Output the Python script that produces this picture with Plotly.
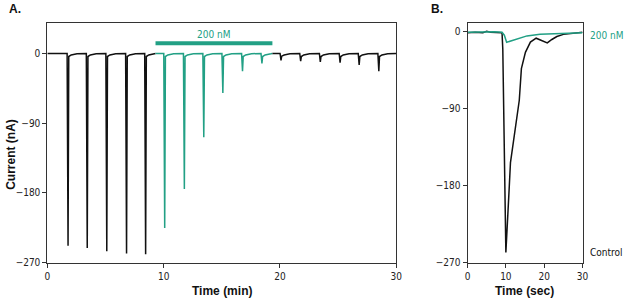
import plotly.graph_objects as go

GREEN = "#22a085"
BLACK = "#111111"

# ---------------- Panel A data ----------------
pulse_times = [1.75, 3.40, 5.08, 6.78, 8.42, 10.06, 11.75, 13.42, 15.06, 16.75,
               18.42, 20.06, 21.75, 23.44, 25.14, 26.78, 28.47]
pulse_peaks = [-248, -251, -255, -258, -259, -225, -175, -108, -51, -23,
               -13, -9, -10, -11, -12, -15, -23]
# pulse shape: (time offset in min, current in nA; None = peak)
shape_dt = [-0.05, 0.03, 0.09, 0.3, 0.8]
shape_i = [0.0, None, -4.0, -2.0, -0.5]
trace_start = 0.0
trace_end = 30.0
drug_start = 9.3
drug_end = 19.35
drug_level = 13
drug_label = "200 nM"

# ---------------- Panel B data ----------------
ctrl_t = [0, 2, 4, 5, 6, 8, 9.0, 9.2, 9.5, 9.65, 10.0, 10.9, 11.2, 13.5, 13.75,
          14.05, 15.1, 16.4, 17.9, 19.3, 20.8, 22.0, 23.3, 25.0, 26.7, 28.0, 30.0]
ctrl_i = [-1, -0.5, -1, 0.5, -0.5, -1, -1, -20, -100, -175, -258, -180, -153, -80, -62,
          -43, -24, -12, -7.5, -10, -13, -9, -5.5, -3, -2, -1, -0.5]
drug_t = [0, 3, 5, 7, 9.0, 9.6, 10.2, 12.0, 15.5, 18.9, 24.0, 29.2, 30.0]
drug_i = [-0.5, 0, -0.5, 0, -0.5, -4, -12.3, -9.5, -4.8, -2.9, -1.7, -1.0, -1.0]

# build panel A trace points
xs, ys = [trace_start], [0.0]
for t, p in zip(pulse_times, pulse_peaks):
    for dt, v in zip(shape_dt, shape_i):
        val = p if v is None else max(v, p * 0.4) if v < 0 else v
        xs.append(t + dt)
        ys.append(val)
xs.append(trace_end)
ys.append(0.0)


def segment(lo, hi):
    sx, sy = [], []
    for x, y in zip(xs, ys):
        if lo <= x <= hi:
            sx.append(x)
            sy.append(y)
    return sx, sy


fig = go.Figure()
for lo, hi, col in [(trace_start, drug_start, BLACK), (drug_start, drug_end, GREEN),
                    (drug_end, trace_end, BLACK)]:
    sx, sy = segment(lo, hi)
    if lo > trace_start:
        sx = [lo] + sx
        sy = [0.0] + sy
    if hi < trace_end:
        sx = sx + [hi]
        sy = sy + [0.0]
    fig.add_trace(go.Scatter(x=sx, y=sy, mode="lines", line=dict(color=col, width=1.5),
                             xaxis="x", yaxis="y", showlegend=False, hoverinfo="skip"))

fig.add_trace(go.Scatter(x=[drug_start, drug_end], y=[drug_level, drug_level], mode="lines",
                         line=dict(color=GREEN, width=4), xaxis="x", yaxis="y",
                         showlegend=False, hoverinfo="skip"))

fig.add_trace(go.Scatter(x=ctrl_t, y=ctrl_i, mode="lines", line=dict(color=BLACK, width=1.5),
                         xaxis="x2", yaxis="y2", showlegend=False, hoverinfo="skip"))
fig.add_trace(go.Scatter(x=drug_t, y=drug_i, mode="lines", line=dict(color=GREEN, width=1.5),
                         xaxis="x2", yaxis="y2", showlegend=False, hoverinfo="skip"))

W, H = 626, 308
NARROW_FAM = "Liberation Sans Narrow, DejaVu Sans Condensed, Arial Narrow, sans-serif"
TICKFONT = dict(family=NARROW_FAM, size=10, color="#222")
ydom = [(H - 268) / H, (H - 23) / H]

axis_common = dict(showgrid=False, zeroline=False, showline=True, linecolor="#333",
                   linewidth=1, mirror=True, ticks="outside", ticklen=4, tickcolor="#333",
                   tickfont=TICKFONT)

fig.update_layout(
    width=W, height=H, margin=dict(l=0, r=0, t=0, b=0),
    paper_bgcolor="white", plot_bgcolor="white",
    xaxis=dict(domain=[45 / W, 399 / W], range=[0, 30], tickvals=[0, 10, 20, 30],
               anchor="y", **axis_common),
    yaxis=dict(domain=ydom, range=[-270, 39.8], tickvals=[0, -90, -180, -270],
               anchor="x", **axis_common),
    xaxis2=dict(domain=[471.3 / W, 588 / W], range=[0, 30], tickvals=[0, 10, 20, 30],
                anchor="y2", **axis_common),
    yaxis2=dict(domain=ydom, range=[-270, 10.8], tickvals=[0, -90, -180, -270],
                anchor="x2", **axis_common),
)

BOLD = dict(family="Liberation Sans, Arial, sans-serif", size=12, color="#111")
NARROW = dict(family=NARROW_FAM, size=10, color=GREEN)


def px_x(p):
    return p / W


def px_y(p):
    return 1 - p / H


ann = [
    dict(text="<b>A.</b>", x=px_x(4), y=px_y(9), xanchor="left", yanchor="middle", font=BOLD),
    dict(text="<b>B.</b>", x=px_x(432), y=px_y(9), xanchor="left", yanchor="middle", font=BOLD),
    dict(text="<b>Current (nA)</b>", x=px_x(8), y=px_y(157), textangle=-90,
         xanchor="center", yanchor="middle", font=BOLD),
    dict(text="<b>Time (min)</b>", x=px_x(222), y=px_y(297), xanchor="center",
         yanchor="middle", font=BOLD),
    dict(text="<b>Time (sec)</b>", x=px_x(529), y=px_y(297), xanchor="center",
         yanchor="middle", font=BOLD),
    dict(text="200 nM", x=px_x(594), y=px_y(36), xanchor="left", yanchor="middle", font=NARROW),
    dict(text="Control", x=px_x(594), y=px_y(258), xanchor="left", yanchor="middle",
         font=dict(NARROW, color="#111")),
]
for a in ann:
    a.update(xref="paper", yref="paper", showarrow=False)
fig.update_layout(annotations=ann)

fig.add_annotation(text=drug_label, x=(drug_start + drug_end) / 2, y=drug_level + 12,
                   xref="x", yref="y", showarrow=False, yanchor="middle", font=NARROW)

fig.write_html("out.html")
